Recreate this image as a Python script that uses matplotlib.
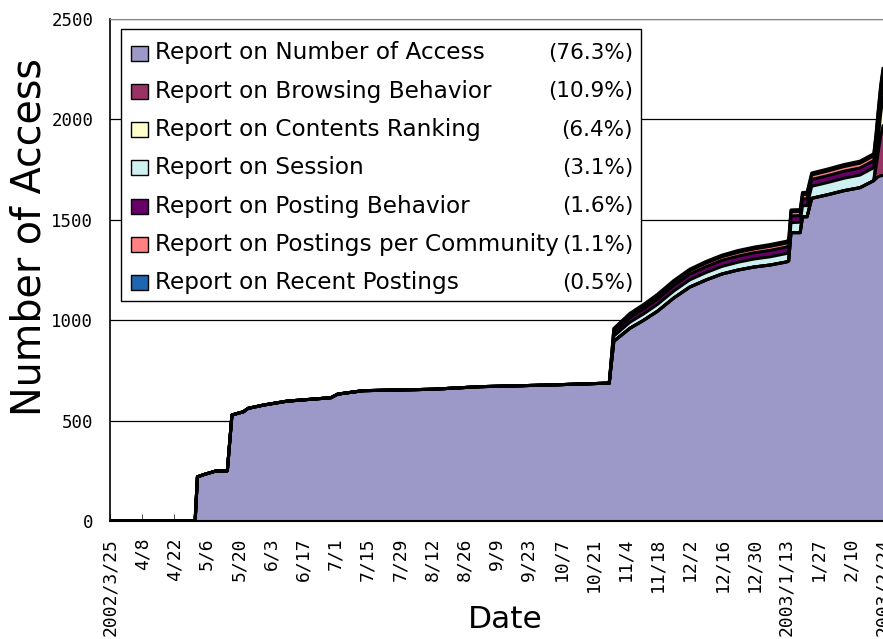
import matplotlib
matplotlib.use("Agg")
import matplotlib.pyplot as plt
from matplotlib.patches import Rectangle
import pandas as pd
import numpy as np

# ---------------- data ----------------
dates = ["2002-03-25", "2002-05-01", "2002-05-02", "2002-05-05", "2002-05-10",
         "2002-05-15", "2002-05-17", "2002-05-22", "2002-05-24", "2002-05-31",
         "2002-06-10", "2002-06-29", "2002-07-02", "2002-07-13", "2002-08-12",
         "2002-09-02", "2002-10-01", "2002-10-26", "2002-10-28", "2002-10-30",
         "2002-11-06", "2002-11-12", "2002-11-18", "2002-11-25", "2002-12-02",
         "2002-12-09", "2002-12-16", "2002-12-23", "2002-12-30", "2003-01-06",
         "2003-01-13", "2003-01-14", "2003-01-15", "2003-01-19", "2003-01-20",
         "2003-01-22", "2003-01-24", "2003-01-31", "2003-02-07", "2003-02-14",
         "2003-02-20", "2003-02-21", "2003-02-22", "2003-02-23", "2003-02-24"]

number_of_access = [0, 0, 220, 232, 249, 250, 528, 544, 561, 578,
                    597, 614, 632, 649, 656, 669, 677, 686, 686, 895,
                    960, 1000, 1045, 1110, 1165, 1200, 1230, 1250, 1265, 1275,
                    1290, 1295, 1436, 1436, 1515, 1515, 1607, 1625, 1645, 1660,
                    1695, 1705, 1715, 1719, 1721]
browsing_behavior = [0] * 41 + [60, 130, 200, 246]
contents_ranking = [0] * 41 + [30, 70, 110, 144]
session = [0] * 19 + [26, 30, 32, 34, 35, 36, 37, 38, 39, 40, 41, 42, 43, 50, 52,
                      55, 56, 60, 61, 62, 63, 65, 67, 68, 69, 70]
posting_behavior = [0] * 19 + [20, 23, 25, 26, 27, 28, 29, 30, 30, 31, 32, 32, 32, 33, 33,
                               34, 34, 34, 34, 35, 35, 35, 35, 36, 36, 36]
postings_per_community = [0] * 19 + [12, 14, 15, 16, 17, 17, 18, 18, 19, 19, 20, 20, 20, 21, 21,
                                     22, 22, 22, 23, 23, 24, 24, 24, 25, 25, 25]
recent_postings = [0] * 19 + [6, 7, 7, 8, 8, 8, 8, 8, 9, 9, 9, 9, 9, 9, 9,
                              10, 10, 10, 10, 10, 10, 10, 11, 11, 11, 11]

series_names = ["Report on Number of Access", "Report on Browsing Behavior",
                "Report on Contents Ranking", "Report on Session",
                "Report on Posting Behavior", "Report on Postings per Community",
                "Report on Recent Postings"]
percent_labels = ["(76.3%)", "(10.9%)", "(6.4%)", "(3.1%)", "(1.6%)", "(1.1%)", "(0.5%)"]
colors = ["#9c99c8", "#993366", "#ffffcc", "#cff0f0", "#660066", "#ff8080", "#1f66b0"]

tick_labels = ["2002/3/25", "4/8", "4/22", "5/6", "5/20", "6/3", "6/17", "7/1", "7/15",
               "7/29", "8/12", "8/26", "9/9", "9/23", "10/7", "10/21", "11/4", "11/18",
               "12/2", "12/16", "12/30", "2003/1/13", "1/27", "2/10", "2003/2/24"]
y_ticks = [0, 500, 1000, 1500, 2000, 2500]

# ---------------- figure ----------------
W, H = 883, 639
fig = plt.figure(figsize=(W / 100, H / 100), dpi=100)


def fx(x):
    return x / W


def fy(y):
    return 1 - y / H


ax = fig.add_axes([fx(110), fy(521), fx(883) - fx(110), fy(19) - fy(521)])

x = pd.to_datetime(dates)
series = [number_of_access, browsing_behavior, contents_ranking, session,
          posting_behavior, postings_per_community, recent_postings]
ax.stackplot(x, *series, colors=colors, linewidth=0, zorder=2)
cum = np.cumsum(np.array(series, dtype=float), axis=0)
for row in cum:
    ax.plot(x, row, color="black", lw=2.2, solid_joinstyle="round", zorder=3)

ax.set_ylim(0, 2500)
ax.set_xlim(pd.Timestamp("2002-03-25"), pd.Timestamp("2003-02-24"))
ax.set_yticks(y_ticks)
ax.set_yticklabels([str(v) for v in y_ticks], family="DejaVu Sans Mono", fontsize=12.5)
tick_pos = pd.date_range("2002-03-25", periods=len(tick_labels), freq="14D")
ax.set_xticks(tick_pos)
ax.set_xticklabels(tick_labels, rotation=90, va="top", ha="center",
                   family="DejaVu Sans Mono", fontsize=13)
ax.yaxis.grid(True, color="black", lw=0.9, zorder=0)
ax.set_axisbelow(True)
ax.tick_params(axis="x", direction="in", length=5, color="#555555", pad=12)
ax.tick_params(axis="y", length=0, pad=12)
ax.spines["right"].set_visible(False)
ax.spines["top"].set_color("#888888")
ax.spines["left"].set_linewidth(1.2)
ax.spines["bottom"].set_linewidth(1.5)

fig.text(fx(30), fy(237), "Number of Access", rotation=90, ha="center", va="center", fontsize=28.5)
fig.text(fx(505), fy(620), "Date", ha="center", va="center", fontsize=22.5)

# ---------------- legend ----------------
fig.add_artist(Rectangle((fx(121), fy(301)), fx(641) - fx(121), fy(29) - fy(301),
                         transform=fig.transFigure, facecolor="white",
                         edgecolor="black", lw=1, zorder=5))
for i, (name, pct, c) in enumerate(zip(series_names, percent_labels, colors)):
    yc = 53 + i * 38.33
    fig.add_artist(Rectangle((fx(131), fy(yc + 7.5)), fx(148) - fx(131), fy(yc - 7.5) - fy(yc + 7.5),
                             transform=fig.transFigure, facecolor=c,
                             edgecolor="black", lw=1, zorder=6))
    fig.text(fx(155), fy(yc), name, ha="left", va="center", fontsize=16.7, zorder=7)
    fig.text(fx(633), fy(yc), pct, ha="right", va="center", fontsize=15.5, zorder=7)

fig.savefig("out.png", dpi=100)
